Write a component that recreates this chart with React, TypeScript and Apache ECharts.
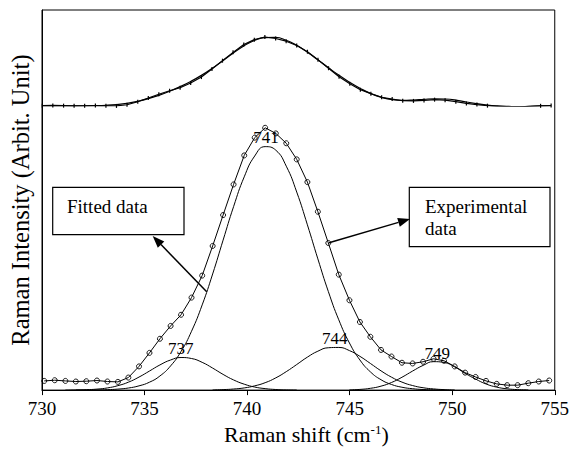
import React, { useEffect, useRef } from "react";
import * as echarts from "echarts";

const FONT = "Liberation Serif";

// Raman shift positions of the experimental points (cm-1)
const expX = [730.11, 730.62, 731.14, 731.65, 732.16, 732.68, 733.19, 733.7, 734.21, 734.73, 735.24, 735.75, 736.27, 736.78, 737.29, 737.81, 738.32, 738.83, 739.34, 739.86, 740.37, 740.88, 741.4, 741.91, 742.42, 742.94, 743.45, 743.96, 744.47, 744.99, 745.5, 746.01, 746.53, 747.04, 747.55, 748.07, 748.58, 749.09, 749.6, 750.12, 750.63, 751.14, 751.65, 752.17, 752.68, 753.19, 753.71, 754.22, 754.73];

// Experimental intensity (arbitrary units)
const expY = [9.3, 10, 9.3, 8.7, 9, 9.7, 8.7, 8.3, 12.7, 24, 37.7, 52, 65, 76.3, 93.7, 116, 146, 177.3, 208.3, 237.7, 255.7, 265.7, 260, 250, 233.7, 210.7, 180.7, 149, 117, 91, 69, 54, 40.7, 34, 27.7, 27, 28.7, 31.7, 29.7, 24, 17.7, 13.3, 9.3, 6.3, 5, 5, 7, 8.7, 9.7];

// Total fitted intensity (top panel)
const fitY = [8, 8, 8.1, 8.2, 8.5, 9.2, 10.7, 13.5, 18.1, 25.5, 35.3, 47.8, 63, 80.2, 99.6, 122.4, 148.1, 176.3, 205.2, 232.2, 252.5, 263.6, 264, 253.7, 234.5, 208.8, 180.3, 150.8, 122.4, 96, 73.4, 54.3, 40, 31.5, 29, 30.3, 33, 35, 34.1, 30.2, 23, 16.8, 11.5, 8.2, 6.4, 5.5, 6.7, 8.1, 9];

// Fitted component bands
const band737 = [null, null, 0.05, 0.15, 0.41, 1, 2.2, 4.5, 8, 13.2, 19.3, 25.5, 30.5, 33, 32, 28.1, 22.3, 15.9, 10.3, 6, 3.1, 1.5, 0.6, 0.2, 0.1, null, null, null, null, null, null, null, null, null, null, null, null, null, null, null, null, null, null, null, null, null, null, null, null];
const band741 = [null, null, null, 0.03, 0.08, 0.2, 0.45, 1, 2.1, 4.3, 8, 14.3, 24.5, 39.2, 59.6, 86.3, 117.6, 151.9, 185.8, 216, 237.1, 246.6, 243, 226.8, 200.6, 167.4, 132.9, 99.9, 71.2, 47.7, 30.5, 18.5, 10.5, 5.7, 2.9, 1.4, 0.6, 0.3, 0.1, null, null, null, null, null, null, null, null, null, null];
const band744 = [null, null, null, null, null, null, null, null, null, null, null, null, null, null, null, null, 0.2, 0.5, 1.1, 2.2, 4.3, 7.5, 12.4, 18.7, 25.9, 33.4, 39.4, 42.9, 43.2, 40, 34.2, 27, 19.5, 13.1, 8.1, 4.6, 2.4, 1.2, 0.5, 0.2, null, null, null, null, null, null, null, null, null];
const band749 = [null, null, null, null, null, null, null, null, null, null, null, null, null, null, null, null, null, null, null, null, null, null, null, null, null, null, null, null, null, 0.3, 0.7, 1.8, 4, 7.7, 13, 19.3, 25, 28.8, 28, 23.5, 17, 11.2, 6.2, 3, 1.3, 0.5, 0.2, null, null];

// Peak labels
const peakNames = ["737", "741", "744", "749"];
const peakLabelX = [736.77, 740.92, 744.27, 749.27];
const peakLabelY = [42.3, 256, 52.3, 36.7];

export default function App() {
  const ref = useRef<HTMLDivElement>(null);
  useEffect(() => {
    const chart = echarts.init(ref.current!, null, { renderer: "svg" });
    const pair = (ys: (number | null)[]) => expX.map((x, i) => [x, ys[i]]);
    const bandSeries = (ys: (number | null)[]) => ({
      type: "line",
      xAxisIndex: 0,
      yAxisIndex: 0,
      data: pair(ys).filter((p) => p[1] !== null),
      smooth: 0.5,
      showSymbol: false,
      symbol: "none",
      lineStyle: { color: "#000", width: 1 },
      z: 3,
    });
    const boxes: any[] = [
      { type: "rect", z: 100, shape: { x: 52.7, y: 187.3, width: 131.3, height: 47.4 }, style: { fill: "#fff", stroke: "#000", lineWidth: 1.2 } },
      { type: "text", z: 101, x: 67, y: 206.7, style: { text: "Fitted data", fontSize: 19, fontFamily: FONT, fill: "#000", verticalAlign: "middle" } },
      { type: "rect", z: 100, shape: { x: 409.3, y: 187.3, width: 140.7, height: 59.4 }, style: { fill: "#fff", stroke: "#000", lineWidth: 1.2 } },
      { type: "text", z: 101, x: 425, y: 217.5, style: { text: "Experimental\ndata", lineHeight: 21.6, fontSize: 19, fontFamily: FONT, fill: "#000", verticalAlign: "middle" } },
      { type: "line", z: 100, shape: { x1: 206.7, y1: 291.7, x2: 161, y2: 244.6 }, style: { stroke: "#000", lineWidth: 1.5 } },
      { type: "polygon", z: 100, shape: { points: [[152.7, 236], [164.3, 241.5], [157.8, 247.7]] }, style: { fill: "#000" } },
      { type: "line", z: 100, shape: { x1: 329, y1: 242.7, x2: 398.5, y2: 222.4 }, style: { stroke: "#000", lineWidth: 1.5 } },
      { type: "polygon", z: 100, shape: { points: [[410, 219], [399.8, 226.7], [397.2, 218.1]] }, style: { fill: "#000" } },
    ];
    const option: any = {
      animation: false,
      backgroundColor: "#fff",
      textStyle: { fontFamily: FONT },
      grid: [
        { left: 40, right: 15.3, top: 10, bottom: 59, show: true, borderColor: "#000", borderWidth: 1, backgroundColor: "transparent" },
        { left: 40, right: 15.3, top: 10, height: 96, show: false },
      ],
      xAxis: [
        {
          type: "value",
          gridIndex: 0,
          min: 730,
          max: 755,
          interval: 5,
          axisLine: { show: true, lineStyle: { color: "#000", width: 1 } },
          axisTick: { show: true, inside: false, length: 5, lineStyle: { color: "#000" } },
          axisLabel: { color: "#000", fontSize: 19, fontFamily: FONT, margin: 9 },
          splitLine: { show: false },
          name: "{a|Raman shift (cm}{b|-1}{a|)}",
          nameLocation: "middle",
          nameGap: 31,
          nameTextStyle: {
            padding: [0, 0, 0, 16],
            rich: {
              a: { fontSize: 22, fontFamily: FONT, color: "#000", lineHeight: 22, verticalAlign: "bottom" },
              b: { fontSize: 13, fontFamily: FONT, color: "#000", lineHeight: 14, verticalAlign: "top", padding: [0, 0, 13, 0] },
            },
          },
        },
        { type: "value", gridIndex: 1, min: 730, max: 755, show: false },
      ],
      yAxis: [
        {
          type: "value",
          gridIndex: 0,
          min: 0,
          max: 385,
          axisLine: { show: true, lineStyle: { color: "#000", width: 1 } },
          axisTick: { show: false },
          axisLabel: { show: false },
          splitLine: { show: false },
          name: "Raman Intensity (Arbit. Unit)",
          nameLocation: "middle",
          nameGap: 9,
          nameTextStyle: { fontSize: 24.5, fontFamily: FONT, color: "#000" },
        },
        { type: "value", gridIndex: 1, min: 8, max: 366.5, show: false },
      ],
      series: [
        {
          type: "line",
          name: "Experimental",
          xAxisIndex: 0,
          yAxisIndex: 0,
          data: pair(expY),
          symbol: "circle",
          symbolSize: 5,
          showSymbol: true,
          itemStyle: { color: "rgba(255,255,255,0)", borderColor: "#000", borderWidth: 0.9 },
          lineStyle: { color: "#000", width: 1 },
          z: 4,
        },
        bandSeries(band737),
        bandSeries(band741),
        bandSeries(band744),
        bandSeries(band749),
        {
          type: "line",
          name: "ExpTop",
          xAxisIndex: 1,
          yAxisIndex: 1,
          data: pair(expY),
          symbol: "rect",
          symbolSize: [1.2, 4],
          showSymbol: true,
          itemStyle: { color: "#000" },
          lineStyle: { color: "#000", width: 1.2 },
        },
        {
          type: "line",
          name: "FitTop",
          xAxisIndex: 1,
          yAxisIndex: 1,
          data: pair(fitY),
          smooth: 0.5,
          showSymbol: false,
          symbol: "none",
          lineStyle: { color: "#000", width: 1.2 },
        },
      ],
      graphic: boxes,
    };
    chart.setOption(option);
    const labelTexts = peakNames.map((n, i) => {
      const p = chart.convertToPixel({ gridIndex: 0 }, [peakLabelX[i], peakLabelY[i]]) as number[];
      return {
        type: "text",
        z: 102,
        x: p[0],
        y: p[1],
        style: { text: n, fontSize: 17, fontFamily: FONT, fill: "#000", align: "center", verticalAlign: "middle" },
      };
    });
    chart.setOption({ graphic: [...boxes, ...labelTexts] });
    return () => chart.dispose();
  }, []);
  return <div ref={ref} style={{ position: "fixed", left: 0, top: 0, width: 572, height: 454 }} />;
}
